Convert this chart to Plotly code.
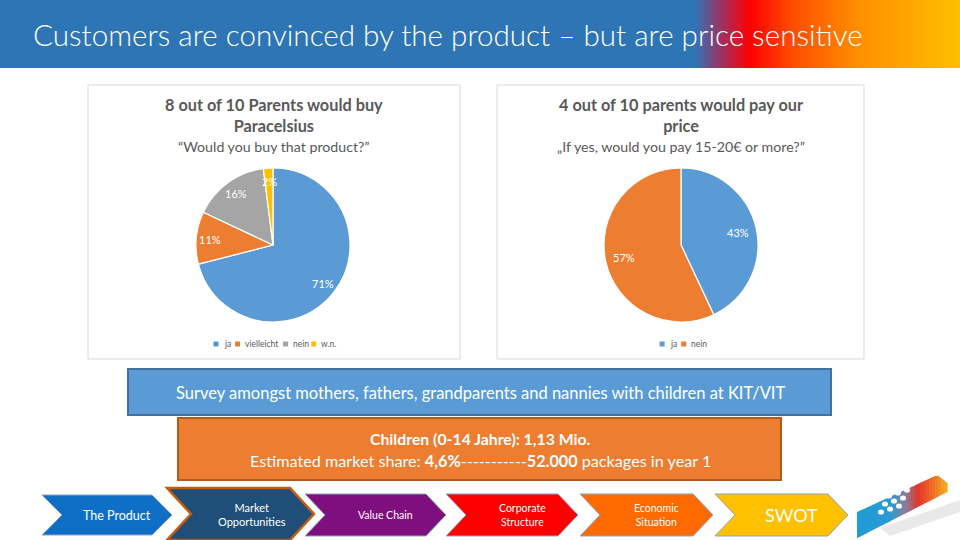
import math
import plotly.graph_objects as go

W, H = 960, 540
FONT = "Lato"

title_text = "Customers are convinced by the product – but are price sensitive"

buy_labels = ["ja", "vielleicht", "nein", "w.n."]
buy_values = [71, 11, 16, 2]
buy_colors = ["#5B9BD5", "#ED7D31", "#A5A5A5", "#FFC000"]
buy_title = "<b>8 out of 10 Parents would buy<br>Paracelsius</b>"
buy_sub = "“Would you buy that product?”"

pay_labels = ["ja", "nein"]
pay_values = [43, 57]
pay_colors = ["#5B9BD5", "#ED7D31"]
pay_title = "<b>4 out of 10 parents would pay our<br>price</b>"
pay_sub = "„If yes, would you pay 15-20€ or more?”"

survey_text = "Survey amongst mothers, fathers, grandparents and nannies with children at KIT/VIT"
market_line1 = "<b>Children (0-14 Jahre): 1,13 Mio.</b>"
market_line2 = "Estimated market share: <b>4,6%</b>-----------<b>52.000</b> packages in year 1"

steps = ["The Product", "Market<br>Opportunities", "Value Chain",
         "Corporate<br>Structure", "Economic<br>Situation", "SWOT"]
step_colors = ["#0F6FC6", "#1F4E79", "#7F0F7E", "#FF0000", "#FF6A00", "#FFC000"]


def X(x):
    return x / W


def Y(y):
    return 1 - y / H


shapes = []
annotations = []


def rect(x0, y0, x1, y1, fill, line=None, lw=0, layer="below"):
    shapes.append(dict(type="rect", xref="paper", yref="paper",
                       x0=X(x0), x1=X(x1), y0=Y(y1), y1=Y(y0),
                       fillcolor=fill, layer=layer,
                       line=dict(color=line or fill, width=lw)))


def poly(pts, fill, line=None, lw=0, layer="above"):
    p = "M " + " L ".join(f"{X(a):.5f},{Y(b):.5f}" for a, b in pts) + " Z"
    shapes.append(dict(type="path", xref="paper", yref="paper", path=p,
                       fillcolor=fill, layer=layer,
                       line=dict(color=line or fill, width=lw)))


def text(x, y, s, size, color="white", xanchor="center", family=FONT, weight=None):
    f = dict(size=size, color=color, family=family)
    if weight:
        f["weight"] = weight
    annotations.append(dict(x=X(x), y=Y(y), xref="paper", yref="paper", text=s,
                            showarrow=False, xanchor=xanchor, yanchor="middle",
                            font=f, align="center"))


def hex2rgb(h):
    h = h.lstrip("#")
    return tuple(int(h[i:i + 2], 16) for i in (0, 2, 4))


def grad(stops, x):
    for (xa, ca), (xb, cb) in zip(stops[:-1], stops[1:]):
        if xa <= x <= xb:
            t = (x - xa) / (xb - xa) if xb > xa else 0
            a, b = hex2rgb(ca), hex2rgb(cb)
            return "rgb(%d,%d,%d)" % tuple(round(a[i] + (b[i] - a[i]) * t) for i in range(3))
    return stops[-1][1] if x > stops[-1][0] else stops[0][1]


# ---- title bar with gradient ----
bar_stops = [(0, "#2E75B6"), (695, "#2E75B6"), (722, "#A03060"), (750, "#FF0000"),
             (790, "#FF4A00"), (860, "#FF9000"), (960, "#FFBE00")]
rect(0, 0, 700, 68, "#2E75B6")
x = 695
while x < 960:
    rect(x, 0, x + 3.5, 68, grad(bar_stops, x + 1.5))
    x += 3
text(31, 34, title_text, 29.6, "white", xanchor="left", weight=300)

# ---- chart panels ----
rect(88, 85, 460, 359, "white", "#D9D9D9", 1)
rect(497, 85, 864, 359, "white", "#D9D9D9", 1)

text(274, 115, buy_title, 16.3, "#595959")
text(274, 146, buy_sub, 14.2, "#595959")
text(681, 115, pay_title, 16.3, "#595959")
text(681, 146, pay_sub, 14.2, "#595959")

fig = go.Figure()

pies = [
    dict(labels=buy_labels, values=buy_values, colors=buy_colors,
         cx=273, cy=245, r=77, k=0.82),
    dict(labels=pay_labels, values=pay_values, colors=pay_colors,
         cx=681, cy=245, r=77, k=0.76),
]

for p in pies:
    fig.add_trace(go.Pie(
        labels=p["labels"], values=p["values"], sort=False,
        direction="clockwise", rotation=0, textinfo="none",
        marker=dict(colors=p["colors"], line=dict(color="white", width=1.2)),
        domain=dict(x=[X(p["cx"] - p["r"]), X(p["cx"] + p["r"])],
                    y=[Y(p["cy"] + p["r"]), Y(p["cy"] - p["r"])]),
        showlegend=False, hoverinfo="label+percent",
    ))
    total = sum(p["values"])
    cum = 0
    for v in p["values"]:
        mid = (cum + v / 2) / total * 2 * math.pi
        cum += v
        lx = p["cx"] + p["k"] * p["r"] * math.sin(mid)
        ly = p["cy"] - p["k"] * p["r"] * math.cos(mid)
        text(lx, ly, f"{round(v / total * 100)}%", 11, "white")

    # compact legend below the pie (square + label per category)
    CH, SQ, GAP, SEP = 3.3, 5, 3, 7
    widths = [SQ + GAP + len(lab) * CH for lab in p["labels"]]
    total_w = sum(widths) + SEP * (len(widths) - 1)
    lx = p["cx"] - total_w / 2
    ly = 344
    for lab, col, w in zip(p["labels"], p["colors"], widths):
        rect(lx, ly - 2.5, lx + SQ, ly + 2.5, col, layer="above")
        text(lx + SQ + GAP, ly, lab, 8.5, "#595959", xanchor="left")
        lx += w + SEP

# ---- info boxes ----
rect(128, 369, 831, 415, "#5B9BD5", "#41719C", 2)
text(480, 393, survey_text, 16.5, "white")
rect(178, 418, 781, 480, "#ED7D31", "#AE5A21", 2)
text(480, 438, market_line1, 15.8, "white")
text(480, 460, market_line2, 16.2, "white")

# ---- process chevrons ----
chev = [
    (42, 172, 495, 535, 20, "#8FA3BF", 1),
    (167, 314, 488, 540, 24, "#C55A11", 2.5),
    (305, 446, 494, 536, 20, "#8FA3BF", 1),
    (446, 578, 494, 536, 20, "#8FA3BF", 1),
    (580, 713, 494, 536, 20, "#8FA3BF", 1),
    (715, 848, 494, 536, 20, "#8FA3BF", 1),
]
step_sizes = [12.5, 11, 10.5, 10.5, 10.5, 18]
for (x0, x1, y0, y1, d, lc, lw), label, col, sz in zip(chev, steps, step_colors, step_sizes):
    ym = (y0 + y1) / 2
    poly([(x0, y0), (x1 - d, y0), (x1, ym), (x1 - d, y1), (x0, y1), (x0 + d, ym)],
         col, lc, lw)
    cx = (x0 + d + x1) / 2
    text(cx, ym, label, sz, "white")

# ---- logo (bottom right) ----
poly([(880, 528), (960, 500), (960, 512), (890, 536)], "#E9E9E9", layer="above")
logo_stops = [(857, "#1E9BD7"), (890, "#2A9AD2"), (906, "#8C7C98"),
              (918, "#E5352B"), (932, "#EF6A25"), (947, "#F8AE22")]


def ytop(x):
    if x <= 937:
        return 512 - (x - 857) * 37 / 80
    return 475 + (x - 937) * 0.8


def ybot(x):
    return 538 - (x - 857) * 46 / 90


x = 857
while x < 947:
    xa, xb = x, min(x + 3, 947)
    poly([(xa, ytop(xa)), (xb + 0.6, ytop(xb)), (xb + 0.6, ybot(xb)), (xa, ybot(xa))],
         grad(logo_stops, (xa + xb) / 2), layer="above")
    x += 3
dots = [(893, 488), (902, 485), (911, 482),
        (889, 496), (898, 493), (907, 490),
        (885, 504), (894, 501), (903, 498),
        (881, 512), (890, 509), (899, 506)]
for dx, dy in dots:
    shapes.append(dict(type="circle", xref="paper", yref="paper",
                       x0=X(dx - 3), x1=X(dx + 3), y0=Y(dy + 2.6), y1=Y(dy - 2.6),
                       fillcolor="white", line=dict(width=0), layer="above"))

fig.update_layout(
    width=W, height=H, margin=dict(l=0, r=0, t=0, b=0),
    paper_bgcolor="white", plot_bgcolor="white",
    font=dict(family=FONT),
    shapes=shapes, annotations=annotations,
    showlegend=False,
)

fig.write_html("out.html", config={"displayModeBar": False},
               post_script="document.body.style.margin='0';document.body.style.padding='0';"
                           "document.body.style.overflow='hidden';")
